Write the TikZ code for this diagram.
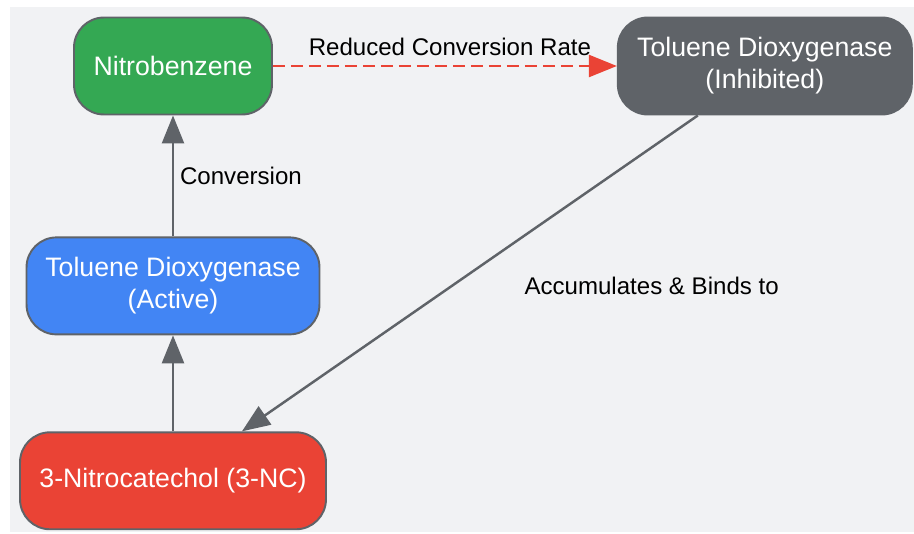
\documentclass[tikz,border=0pt]{standalone}
\usepackage{fontspec}
\setmainfont{Liberation Sans}
\usepackage{tikz}
\usetikzlibrary{arrows.meta,positioning}

\definecolor{bggray}{HTML}{F1F2F4}
\definecolor{edgegray}{HTML}{5F6368}
\definecolor{nitrogreen}{HTML}{34A853}
\definecolor{actblue}{HTML}{4285F4}
\definecolor{catred}{HTML}{EA4335}

\begin{document}
\begin{tikzpicture}
[x=0.02cm,y=-0.02cm,->,>={Triangle[length=0.56cm,width=0.44cm]}]
  \tikzstyle{box}=[rounded corners=0.6cm,draw=edgegray,line width=1.1pt,text=white,minimum height=1.94cm,align=center,font=\fontsize{15.2}{18.2}\selectfont]
  \tikzstyle{edgetext}=[text=black,font=\fontsize{13.7}{16}\selectfont]
  \tikzstyle{grayline}=[draw=edgegray,line width=1.4pt]
  \tikzstyle{redline}=[draw=catred,line width=1.4pt,dash pattern=on 0.24cm off 0.12cm]

  \useasboundingbox (0,0) rectangle (914,534);
  \fill[bggray,-] (10,7) rectangle (914,532);

  \node[box,fill=nitrogreen,minimum width=3.96cm] (nitro) at (173,66) {Nitrobenzene};
  \node[box,fill=edgegray,minimum width=5.88cm]   (inh)   [right=6.88cm of nitro] {Toluene Dioxygenase\\(Inhibited)};
  \node[box,fill=actblue,minimum width=5.86cm]    (act)   [below=2.42cm of nitro] {Toluene Dioxygenase\\(Active)};
  \node[box,fill=catred,minimum width=6.12cm]     (cat)   [below=1.92cm of act]   {3-Nitrocatechol (3-NC)};

  \path (act) edge[grayline] node[edgetext,right] {Conversion} (nitro)
        (cat) edge[grayline] (act)
        (nitro) edge[redline] node[edgetext,above,xshift=0.1cm,yshift=0.06cm] {Reduced Conversion Rate} (inh)
        ([xshift=-1.34cm]inh.south) edge[grayline] node[edgetext,pos=0.54,anchor=center,xshift=4cm] {Accumulates \& Binds to} ([xshift=1.38cm]cat.north)
        ;
\end{tikzpicture}
\end{document}
